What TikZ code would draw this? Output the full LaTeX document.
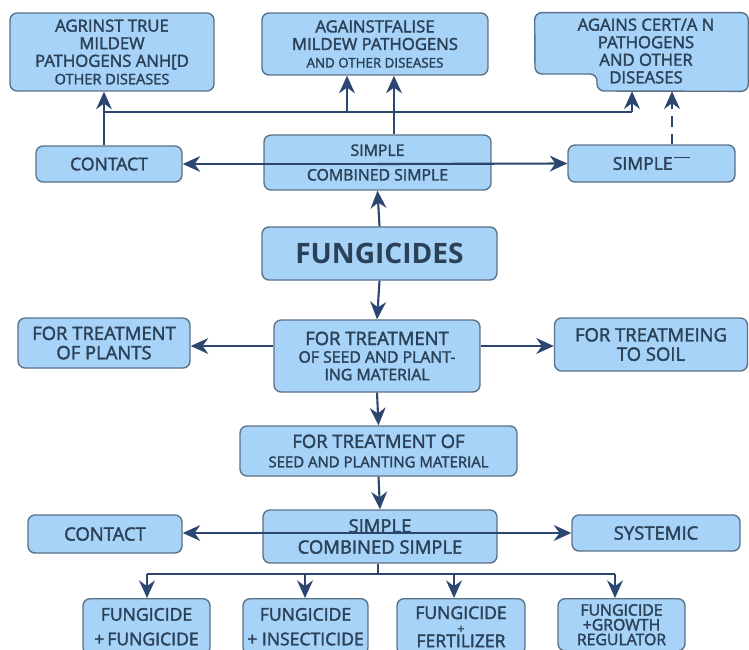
\documentclass[tikz,border=0pt]{standalone}
\usepackage{fontspec}
\setmainfont{Open Sans}
\newfontfamily\medfont{Open Sans}[FakeBold=2]
\usetikzlibrary{arrows.meta}
\definecolor{boxfill}{HTML}{A6D3F7}
\definecolor{boxline}{HTML}{5B7288}
\definecolor{arrowc}{HTML}{2C4670}
\definecolor{textc}{HTML}{2B4157}

\begin{document}
\begin{tikzpicture}[x=0.02cm, y=-0.02cm, font=\medfont\fontsize{10}{11}\selectfont,
  box/.style={draw=boxline, fill=boxfill, rounded corners=4pt, line width=0.8pt,
    text=textc, align=center, inner sep=1pt},
  arr/.style={draw=arrowc, line width=1.2pt, -{Stealth[length=10pt,width=9pt]}},
  lin/.style={draw=arrowc, line width=1.2pt},
  sm/.style={font=\medfont\fontsize{9}{8.4}\selectfont}]
  \useasboundingbox (0,0) rectangle (749,649);
  \clip (0,0) rectangle (749,649);
  % top row
  \node[box, minimum width=4.08cm, minimum height=1.56cm,
    font=\medfont\fontsize{9.5}{10}\selectfont] (top1) at (112,52)
    {AGRINST TRUE\\MILDEW\\PATHOGENS ANH[D\\{\fontsize{8.3}{9}\selectfont OTHER DISEASES}};
  \node[box, minimum width=4.52cm, minimum height=1.24cm,
    font=\medfont\fontsize{9.5}{10}\selectfont] (top2) at (375,44)
    {AGAINSTFALISE\\MILDEW PATHOGENS\\{\fontsize{7.6}{9}\selectfont AND OTHER DISEASES}};
  \node[minimum width=4.26cm, minimum height=1.56cm, inner sep=0pt] (top3) at (641.5,52) {};
  \draw[draw=boxline, fill=boxfill, rounded corners=4pt, line width=0.8pt]
    (top3.north west) -- (top3.north east) -- (top3.south east) -- (597,91)
    -- (597,74) -- (535,74) -- cycle;
  \node[text=textc, align=center, font=\medfont\fontsize{9.5}{10}\selectfont] at (646,51)
    {AGAINS CERT/A N\\PATHOGENS\\AND OTHER\\DISEASES};
  % second row
  \node[box, minimum width=2.92cm, minimum height=0.72cm] (contact1) at (109,164) {CONTACT};
  \node[box, minimum width=4.54cm, minimum height=1.10cm,
    font=\medfont\fontsize{9}{10}\selectfont] (simple1) at (377.5,162.5)
    {SIMPLE\\[4pt]COMBINED SIMPLE};
  \node[box, minimum width=3.34cm, minimum height=0.74cm] (simple2) at (651.5,163.5)
    {SIMPLE\kern1pt\raisebox{1.25ex}{\color{textc}\rule{9pt}{0.4pt}}};
  % centre
  \node[box, minimum width=4.70cm, minimum height=1.06cm,
    font=\bfseries\fontsize{16}{18}\selectfont] (fung) at (379.5,253.5) {FUNGICIDES};
  \node[box, minimum width=3.44cm, minimum height=1.0cm, font=\medfont\fontsize{10.5}{11}\selectfont]
    (plants) at (104,343) {FOR TREATMENT\\OF PLANTS};
  \node[box, minimum width=4.12cm, minimum height=1.44cm] (seed1) at (377,356)
    {{\fontsize{10.5}{11}\selectfont FOR TREATMENT}\\[-1pt]{\fontsize{9}{10}\selectfont OF SEED AND PLANT-}\\[-1pt]{\fontsize{9}{10}\selectfont ING MATERIAL}};
  \node[box, minimum width=3.86cm, minimum height=1.06cm, font=\medfont\fontsize{10.5}{11}\selectfont]
    (soil) at (651,344.5) {FOR TREATMEING\\TO SOIL};
  \node[box, minimum width=5.54cm, minimum height=1.0cm] (seed2) at (378.5,451)
    {{\fontsize{10.5}{11}\selectfont FOR TREATMENT OF}\\{\fontsize{8.5}{10}\selectfont SEED AND PLANTING MATERIAL}};
  % lower rows
  \node[box, minimum width=3.08cm, minimum height=0.76cm, font=\medfont\fontsize{10.5}{11}\selectfont]
    (contact2) at (105,534) {CONTACT};
  \node[box, minimum width=4.68cm, minimum height=1.06cm, font=\medfont\fontsize{10.5}{11}\selectfont]
    (simple3) at (380,536.5) {SIMPLE\\[1pt]COMBINED SIMPLE};
  \node[box, minimum width=3.36cm, minimum height=0.72cm, font=\medfont\fontsize{10.5}{11}\selectfont]
    (systemic) at (656,533) {SYSTEMIC};
  \node[box, minimum width=2.54cm, minimum height=1.12cm, anchor=north] (mix1) at (146.5,598)
    {FUNGICIDE\\[3pt]+\,FUNGICIDE};
  \node[box, minimum width=2.50cm, minimum height=1.12cm, anchor=north] (mix2) at (305.5,598)
    {FUNGICIDE\\[3pt]+ INSECTICIDE};
  \node[box, minimum width=2.56cm, minimum height=1.12cm, anchor=north] (mix3) at (461,598)
    {FUNGICIDE\\[-3pt]{\fontsize{7}{7}\selectfont +}\\[-3pt]FERTILIZER};
  \node[box, minimum width=2.54cm, minimum height=1.04cm, anchor=north, sm] (mix4) at (621.5,598)
    {FUNGICIDE\\+GROWTH\\REGULATOR};
  % connectors, top part
  \draw[arr] (fung.north) -- (simple1.south);
  \draw[arr] (simple1.center |- contact1) -- (contact1.east);
  \draw[arr] (simple1.center |- contact1) -- (simple2.west);
  \coordinate (busL) at (104,112);
  \coordinate (busA) at (347,112);
  \coordinate (busR) at (632,112);
  \draw[arr] (contact1.north -| busL) -- (busL |- top1.south);
  \draw[lin] (busL) -- (busR);
  \draw[arr] (busR) -- (busR |- top3.south);
  \draw[arr] (busA) -- (busA |- top2.south);
  \draw[arr] ([xshift=0.33cm]simple1.north) -- ([xshift=0.33cm]simple1.north |- top2.south);
  \draw[arr, dashed, dash pattern=on 6pt off 4pt] ([xshift=0.41cm]simple2.north)
    -- ([xshift=0.41cm]simple2.north |- top3.south);
  % connectors, middle
  \draw[arr] (fung.south) -- (seed1.north);
  \draw[arr] (seed1.west |- 0,346) -- (plants.east |- 0,346);
  \draw[arr] (seed1.east |- 0,346) -- (soil.west |- 0,346);
  \draw[arr] (seed1.south) -- (seed2.north);
  \draw[arr] (seed2.south) -- (simple3.north);
  % connectors, bottom
  \draw[arr] (simple3.center |- systemic) -- (contact2.east |- systemic);
  \draw[arr] (simple3.center |- systemic) -- (systemic.west);
  \coordinate (bus2) at (378,574);
  \draw[lin] (simple3.south -| bus2) -- (bus2);
  \draw[lin] (147,574) -- (615,574);
  \foreach \m/\xx in {mix1/147, mix2/305, mix3/454, mix4/615}
    \draw[arr] (\xx,574) -- (\m.north -| \xx,0);
\end{tikzpicture}
\end{document}
